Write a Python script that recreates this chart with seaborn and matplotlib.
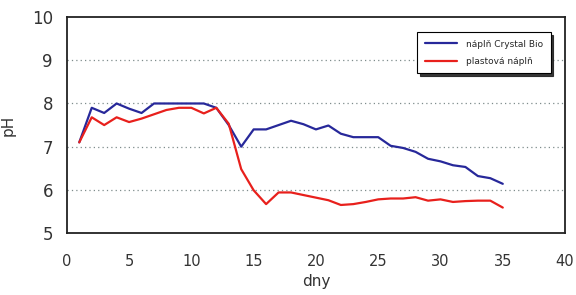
import numpy as np
import pandas as pd
import seaborn as sns
import matplotlib
matplotlib.use('Agg')
import matplotlib.pyplot as plt

# data (pH per day)
dny = list(range(1, 36))
crystal_bio = [7.1, 7.9, 7.78, 8.0, 7.88, 7.78, 8.0, 8.0, 8.0, 8.0,
               8.0, 7.9, 7.5, 7.0, 7.4, 7.4, 7.5, 7.6, 7.52, 7.4,
               7.49, 7.3, 7.22, 7.22, 7.22, 7.02, 6.97, 6.88, 6.72, 6.66,
               6.57, 6.53, 6.32, 6.27, 6.14]
plastova = [7.1, 7.68, 7.5, 7.68, 7.57, 7.65, 7.75, 7.85, 7.9, 7.9,
            7.77, 7.9, 7.53, 6.48, 5.99, 5.67, 5.94, 5.94, 5.88, 5.82,
            5.76, 5.65, 5.67, 5.72, 5.78, 5.8, 5.8, 5.83, 5.75, 5.78,
            5.72, 5.74, 5.75, 5.75, 5.59]
nazvy = ['náplň Crystal Bio', 'plastová náplň']
barvy = ['#27289a', '#e8201c']

df = pd.DataFrame({
    'dny': dny * 2,
    'pH': crystal_bio + plastova,
    'serie': [nazvy[0]] * len(dny) + [nazvy[1]] * len(dny),
})

sns.set_style('white')
plt.rcParams['font.family'] = ['DejaVu Sans']

fig = plt.figure(figsize=(5.76, 2.95), dpi=100)
ax = fig.add_axes([0.116, 0.21, 0.865, 0.732])

sns.lineplot(data=df, x='dny', y='pH', hue='serie', palette=barvy,
             linewidth=1.6, ax=ax)

ax.set_xlim(0, 40)
ax.set_ylim(5, 10)
ax.set_xticks(range(0, 41, 5))
ax.set_yticks(range(5, 11))
for y in [6, 7, 8, 9]:
    ax.axhline(y, color='#7f8c8c', linestyle=(0, (1, 2.5)), linewidth=0.9, zorder=0)

for s in ax.spines.values():
    s.set_color('#222222')
    s.set_linewidth(1.3)
ax.tick_params(direction='in', length=3, width=1, colors='#222222',
               labelcolor='#333333')
ax.tick_params(axis='x', labelsize=10.5, pad=15)
ax.tick_params(axis='y', labelsize=12, pad=10)
ax.set_xlabel('dny', fontsize=11, color='#333333', labelpad=4)
ax.set_ylabel('pH', fontsize=11, color='#333333', labelpad=12)

leg = ax.legend(loc='upper right', bbox_to_anchor=(0.98, 0.95), fontsize=6.5,
                frameon=True, fancybox=False, shadow={'color': '#222222', 'alpha': 0.9},
                edgecolor='black', handlelength=3.6, borderpad=0.8,
                labelspacing=0.9, handletextpad=1.0)
leg.get_frame().set_linewidth(0.8)
leg.set_title(None)

fig.savefig('out.png', dpi=100)
